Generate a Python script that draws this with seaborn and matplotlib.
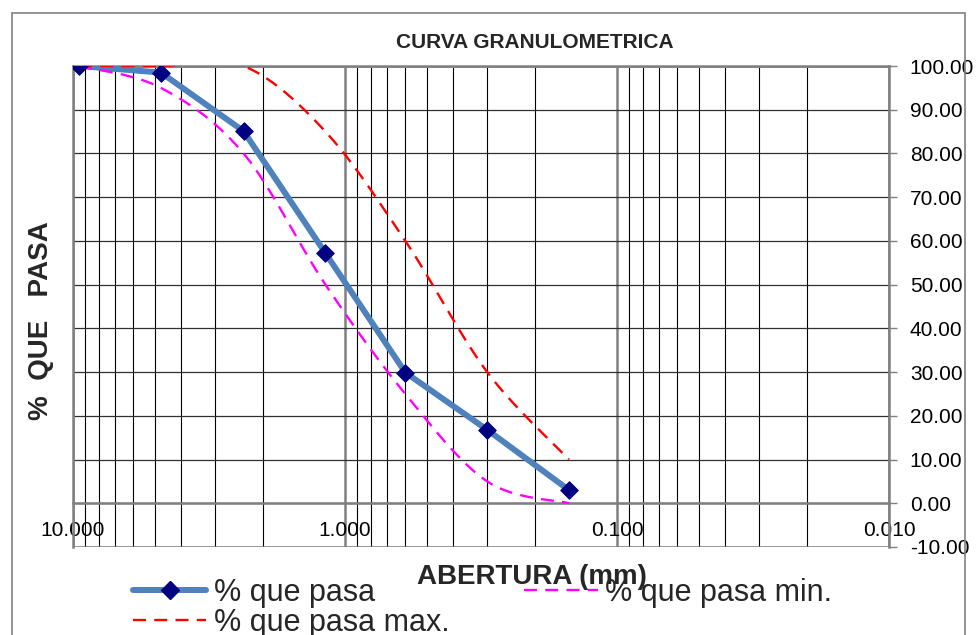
import numpy as np
import pandas as pd
import matplotlib
matplotlib.use("Agg")
import matplotlib.pyplot as plt
import matplotlib.ticker as mticker
from matplotlib.lines import Line2D
from matplotlib.patches import Rectangle
import seaborn as sns

# sieve openings (mm) and % passing
abertura = [9.5, 4.75, 2.36, 1.18, 0.6, 0.3, 0.15]
pasa = [100.0, 98.5, 85.1, 57.2, 29.9, 16.8, 3.0]
pasa_min = [100, 95, 80, 50, 25, 5, 0]
pasa_max = [100, 100, 100, 85, 60, 30, 10]

xticks = [10, 1, 0.1, 0.01]
xtick_labels = ["10.000", "1.000", "0.100", "0.010"]
yticks = [-10, 0, 10, 20, 30, 40, 50, 60, 70, 80, 90, 100]

FONT = ["Liberation Sans", "DejaVu Sans"]


def smooth(xs, ys, n=40):
    # excel style smoothed line (bezier through the points, log x)
    pts = np.column_stack([np.log10(xs), ys]).astype(float)
    P = np.vstack([pts[0], pts, pts[-1]])
    out = []
    t = np.linspace(0, 1, n)[:, None]
    for i in range(1, len(P) - 2):
        p0, p1, p2, p3 = P[i - 1], P[i], P[i + 1], P[i + 2]
        c1 = p1 + (p2 - p0) / 6
        c2 = p2 - (p3 - p1) / 6
        seg = (1 - t) ** 3 * p1 + 3 * (1 - t) ** 2 * t * c1 + 3 * (1 - t) * t ** 2 * c2 + t ** 3 * p2
        out.append(seg if i == 1 else seg[1:])
    out = np.vstack(out)
    return pd.DataFrame({"x": 10 ** out[:, 0], "y": out[:, 1]})


sns.set_style("white")
plt.rcParams["font.family"] = FONT

fig = plt.figure(figsize=(9.78, 6.35), dpi=100)
ax = fig.add_axes([73 / 978, 1 - 547 / 635, (889 - 73) / 978, (547 - 66) / 635])

grey = "#808080"
df = pd.DataFrame({"x": abertura, "y": pasa})

sns.lineplot(data=df, x="x", y="y", ax=ax, color="#4F81BD", lw=4.3, sort=False,
             estimator=None, zorder=3)
sns.lineplot(data=smooth(abertura, pasa_min), x="x", y="y", ax=ax, color="#FF00FF",
             lw=1.7, sort=False, estimator=None, zorder=4, dashes=False)
sns.lineplot(data=smooth(abertura, pasa_max), x="x", y="y", ax=ax, color="#FF0000",
             lw=1.7, sort=False, estimator=None, zorder=4, dashes=False)
ax.lines[1].set_dashes((5.5, 3.5))
ax.lines[2].set_dashes((5.5, 3.5))
sns.scatterplot(data=df, x="x", y="y", ax=ax, marker="D", s=80, color="#000080",
                edgecolor="#000080", zorder=5, legend=False)

ax.set_xscale("log")
ax.set_xlim(10, 0.01)
ax.set_ylim(-10, 100)

ax.xaxis.set_major_locator(mticker.FixedLocator(xticks))
ax.xaxis.set_major_formatter(mticker.FixedFormatter(xtick_labels))
ax.xaxis.set_minor_locator(mticker.LogLocator(base=10, subs=np.arange(2, 10)))
ax.xaxis.set_minor_formatter(mticker.NullFormatter())
ax.set_yticks(yticks)
ax.yaxis.set_major_formatter(mticker.FormatStrFormatter("%.2f"))
ax.yaxis.tick_right()

ax.grid(which="major", axis="x", color=grey, lw=1.8, zorder=0)
ax.grid(which="minor", axis="x", color="black", lw=0.8, zorder=0)
ax.grid(which="major", axis="y", color="#303030", lw=0.9, zorder=0)
ax.axhline(-10, color=grey, lw=1.8, zorder=1)
ax.axhline(100, color=grey, lw=1.8, zorder=1)

ax.spines["bottom"].set_position(("data", 0))
for s in ["bottom", "right", "left", "top"]:
    ax.spines[s].set_color(grey)
    ax.spines[s].set_linewidth(1.8)
ax.set_axisbelow(True)

ax.tick_params(axis="x", which="both", length=0, pad=13, labelsize=15, colors="black")
ax.tick_params(axis="y", which="major", right=True, length=6, width=1, color=grey,
               pad=9, labelsize=15, labelcolor="black")
ax.set_xlabel("")
ax.set_ylabel("")

fig.text(535 / 978, 1 - 43 / 635, "CURVA GRANULOMETRICA", ha="center", va="center",
         fontsize=15, fontweight="bold")
fig.text(41 / 978, 1 - 321 / 635, "%  QUE   PASA", ha="center", va="center",
         rotation=90, fontsize=20, fontweight="bold")
fig.text(532 / 978, 1 - 577 / 635, "ABERTURA (mm)", ha="center", va="center",
         fontsize=20, fontweight="bold", zorder=1)

handles = [
    Line2D([], [], color="#4F81BD", lw=4.3, marker="D", markersize=9,
           markerfacecolor="#000080", markeredgecolor="#000080"),
    Line2D([], [], color="#FF0000", lw=1.7, dashes=(5.5, 3.5)),
    Line2D([], [], color="#FF00FF", lw=1.7, dashes=(5.5, 3.5)),
]
labels = ["% que pasa", "% que pasa max.", "% que pasa min."]
fig.legend(handles, labels, loc="upper left", bbox_to_anchor=(133 / 978, 1 - 578 / 635),
           ncol=2, frameon=False, fontsize=22, handlelength=2.4, handletextpad=0.25,
           columnspacing=2.45, labelspacing=0.0, borderpad=0, borderaxespad=0)

fig.patches.append(Rectangle((12 / 978, -0.1), (965 - 12) / 978, 1.1 - 13 / 635,
                             transform=fig.transFigure, fill=False, edgecolor=grey,
                             lw=1.2, figure=fig))

fig.savefig("out.png", dpi=100)
